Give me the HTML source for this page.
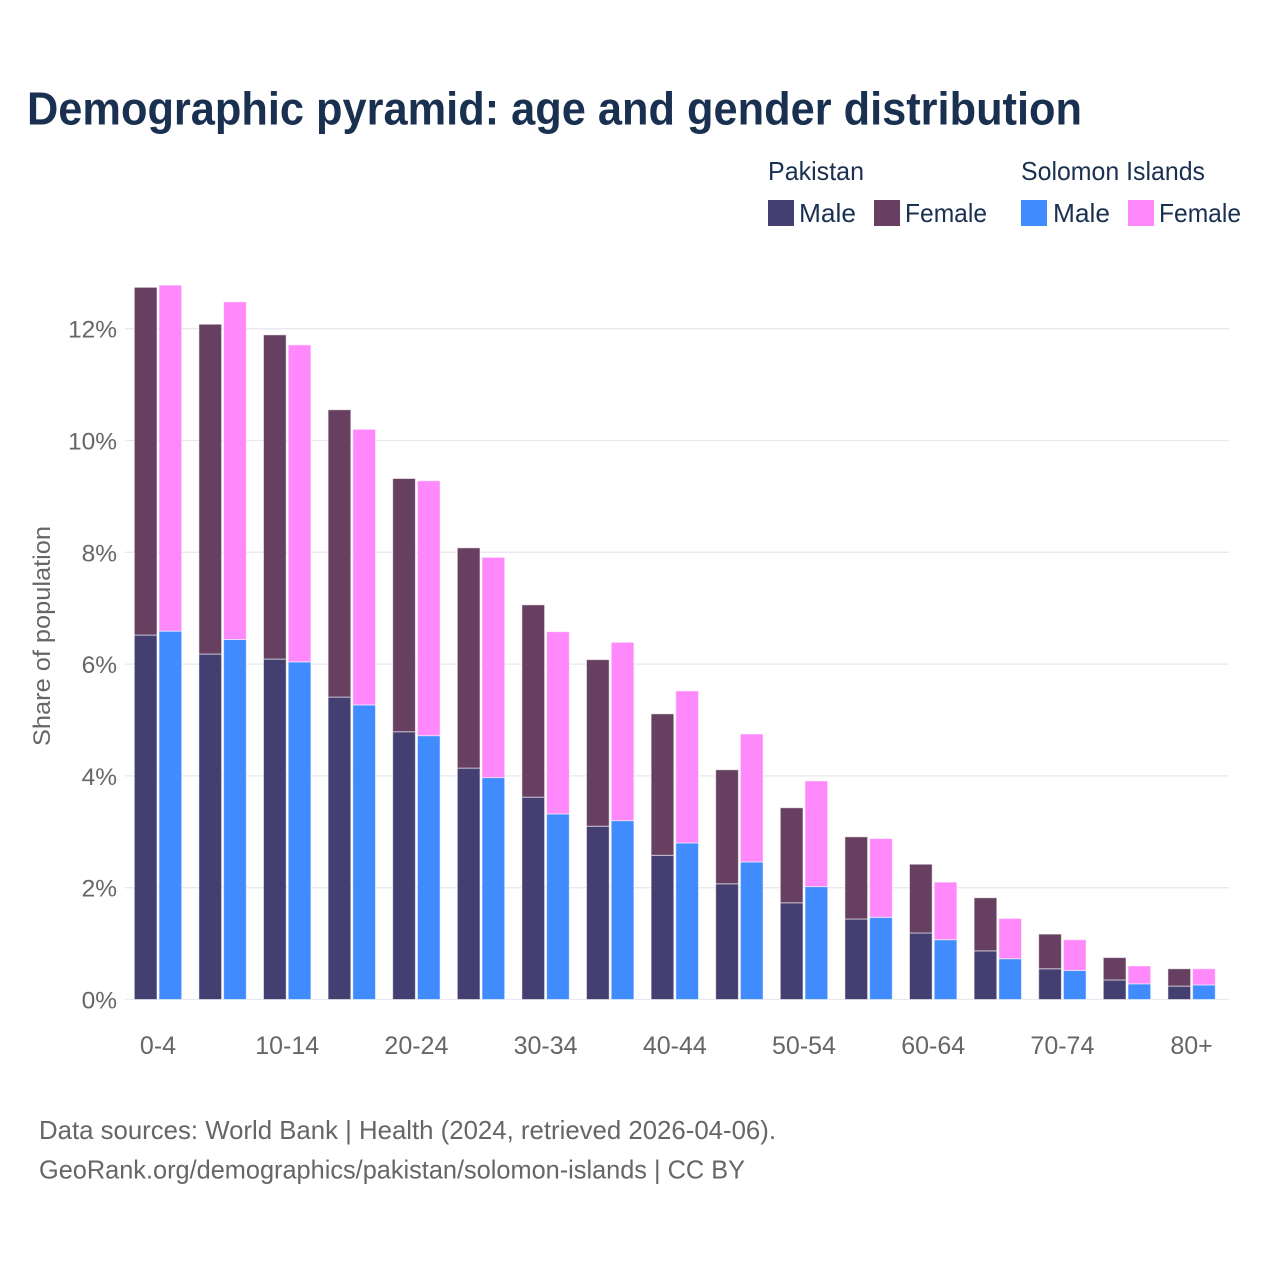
<!DOCTYPE html>
<html lang="en">
<head>
<meta charset="utf-8">
<title>Demographic pyramid: age and gender distribution</title>
<style>
html,body{margin:0;padding:0;background:#fff;width:1280px;height:1280px;overflow:hidden}
svg{display:block}
text{font-family:"Liberation Sans",sans-serif}
</style>
</head>
<body>
<svg id="chart" xmlns="http://www.w3.org/2000/svg" width="1280" height="1280" viewBox="0 0 1280 1280">
  <rect width="1280" height="1280" fill="#ffffff"/>
  <text x="27" y="124.5" font-size="46" font-weight="700" fill="#1a3050" textLength="1055" lengthAdjust="spacingAndGlyphs">Demographic pyramid: age and gender distribution</text>

  <g font-size="26" fill="#1a3050">
    <text x="768" y="180" textLength="96" lengthAdjust="spacingAndGlyphs">Pakistan</text>
    <text x="1021" y="180" textLength="184" lengthAdjust="spacingAndGlyphs">Solomon Islands</text>
    <rect x="768" y="200" width="26" height="26" fill="#433f70"/>
    <text x="799" y="222" textLength="57" lengthAdjust="spacingAndGlyphs">Male</text>
    <rect x="874" y="200" width="26" height="26" fill="#674061"/>
    <text x="905" y="222" textLength="82" lengthAdjust="spacingAndGlyphs">Female</text>
    <rect x="1021" y="200" width="26" height="26" fill="#408cff"/>
    <text x="1053" y="222" textLength="57" lengthAdjust="spacingAndGlyphs">Male</text>
    <rect x="1128" y="200" width="26" height="26" fill="#ff88fb"/>
    <text x="1159" y="222" textLength="82" lengthAdjust="spacingAndGlyphs">Female</text>
  </g>

  <g id="grid"></g>
  <g id="bars"></g>
  <g id="y-axis"></g>
  <g id="x-axis"></g>

  <text transform="translate(50,746) rotate(-90)" font-size="24" fill="#666666" textLength="220" lengthAdjust="spacingAndGlyphs">Share of population</text>

  <text x="39" y="1139" font-size="26" fill="#666666" textLength="737" lengthAdjust="spacingAndGlyphs">Data sources: World Bank | Health (2024, retrieved 2026-04-06).</text>
  <text x="39" y="1178.5" font-size="26" fill="#666666" textLength="706" lengthAdjust="spacingAndGlyphs">GeoRank.org/demographics/pakistan/solomon-islands | CC BY</text>
</svg>
<script>
const categories = ["0-4","5-9","10-14","15-19","20-24","25-29","30-34","35-39","40-44","45-49","50-54","55-59","60-64","65-69","70-74","75-79","80+"];
const pakistanMale = [6.52,6.18,6.09,5.41,4.79,4.14,3.62,3.10,2.58,2.07,1.73,1.44,1.19,0.87,0.55,0.35,0.24];
const pakistanFemale = [6.22,5.90,5.80,5.14,4.53,3.94,3.44,2.98,2.53,2.04,1.70,1.47,1.23,0.95,0.62,0.40,0.31];
const solomonMale = [6.59,6.44,6.04,5.27,4.72,3.97,3.32,3.20,2.80,2.46,2.02,1.47,1.07,0.73,0.52,0.28,0.26];
const solomonFemale = [6.19,6.04,5.67,4.93,4.56,3.94,3.26,3.19,2.72,2.29,1.89,1.41,1.03,0.72,0.55,0.32,0.29];
const yTicks = [0,2,4,6,8,10,12];

const NS = "http://www.w3.org/2000/svg";
const plotLeft = 125, plotRight = 1229, baseY = 999.5, pxPerUnit = 55.9;
const firstCenter = 158, groupStep = 64.6, barWidth = 22.7, barGap = 1;
const yScale = v => baseY - v * pxPerUnit;
const xCenter = i => firstCenter + i * groupStep;

function make(tag, attrs, parent) {
  const el = document.createElementNS(NS, tag);
  for (const k in attrs) el.setAttribute(k, attrs[k]);
  parent.appendChild(el);
  return el;
}

const gridG = document.getElementById("grid");
const yG = document.getElementById("y-axis");
yTicks.forEach(t => {
  const line = make("line", {x1: plotLeft, x2: plotRight, y1: yScale(t), y2: yScale(t), stroke: "#e8e8ee", "stroke-width": 1.3}, gridG);
  
  
  const label = make("text", {x: 117, y: yScale(t) + 9, "text-anchor": "end", "font-size": 24.5, fill: "#666666"}, yG);
  
  
  label.textContent = t + "%";
});

const barsG = document.getElementById("bars");
function drawBar(x, bottom, value, color) {
  const top = bottom + value;
  const r = make("rect", {x: x, y: yScale(top), width: barWidth, height: yScale(bottom) - yScale(top), fill: color, stroke: "#ffffff", "stroke-opacity": 0.55, "stroke-width": 1}, barsG);
  return r;
}
categories.forEach((c, i) => {
  const cx = xCenter(i);
  const xa = cx - barWidth - barGap;
  const xb = cx + barGap;
  const pm = drawBar(xa, 0, pakistanMale[i], "#433f70");
  
  
  const pf = drawBar(xa, pakistanMale[i], pakistanFemale[i], "#674061");
  
  
  const sm = drawBar(xb, 0, solomonMale[i], "#408cff");
  
  
  const sf = drawBar(xb, solomonMale[i], solomonFemale[i], "#ff88fb");
  
  
});

const xG = document.getElementById("x-axis");
categories.forEach((c, i) => {
  if (i % 2) return;
  const label = make("text", {x: xCenter(i), y: 1054, "text-anchor": "middle", "font-size": 25, fill: "#666666"}, xG);
  
  
  label.textContent = c;
});
</script>
</body>
</html>
